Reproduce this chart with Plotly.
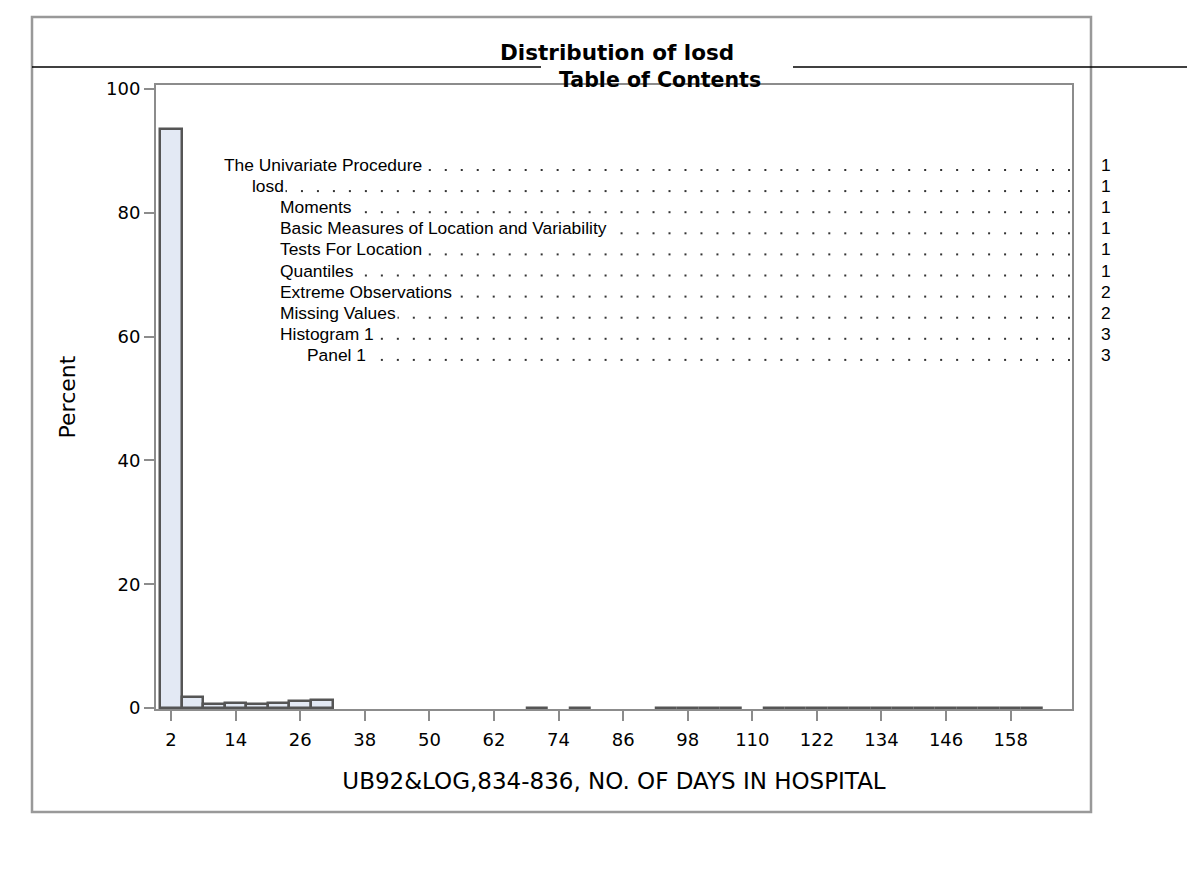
import plotly.graph_objects as go

W, H = 1187, 869

# ---- histogram data (bin midpoints, percent) ----
bin_mid = [2, 6, 10, 14, 18, 22, 26, 30, 34, 38, 42, 46, 50, 54, 58, 62, 66, 70,
           74, 78, 82, 86, 90, 94, 98, 102, 106, 110, 114, 118, 122, 126, 130,
           134, 138, 142, 146, 150, 154, 158, 162]
percent = [93.5, 1.75, 0.6, 0.75, 0.6, 0.75, 1.1, 1.25,
           None, None, None, None, None, None, None, None, None,
           0.08, None, 0.08, None, None, None,
           0.08, 0.08, 0.08, 0.08, None,
           0.08, 0.08, 0.08, 0.08, 0.08, 0.08, 0.08, 0.08, 0.08, 0.08, 0.08, 0.08, 0.08]
x_ticks = [2, 14, 26, 38, 50, 62, 74, 86, 98, 110, 122, 134, 146, 158]
y_ticks = [0, 20, 40, 60, 80, 100]

# ---- table of contents ----
toc_entries = ["The Univariate Procedure", "losd", "Moments",
               "Basic Measures of Location and Variability", "Tests For Location",
               "Quantiles", "Extreme Observations", "Missing Values",
               "Histogram 1", "Panel 1"]
toc_levels = [0, 1, 2, 2, 2, 2, 2, 2, 2, 3]
toc_pages = ["1", "1", "1", "1", "1", "1", "2", "2", "3", "3"]

def px(x):
    return x / W

def py(y):
    return 1 - y / H

AX_FONT = "DejaVu Sans"
TITLE_FONT = "DejaVu Sans"
TOC_FONT = "Liberation Sans, Arial"

fig = go.Figure()
fig.add_trace(go.Bar(
    x=bin_mid, y=percent, width=4,
    marker=dict(color="#E3E9F4", line=dict(color="#555555", width=2.5)),
    xaxis="x", yaxis="y", showlegend=False,
))

# dotted leaders (drawn in a pixel-space overlay axis)
dot_x, dot_y = [], []
row_y0, row_dy = 165, 21.1
x_last, dstep = 1069, 15.98
for i, lvl in enumerate(toc_levels):
    left = 222 + 27.8 * lvl
    yy = row_y0 + row_dy * i + 5
    k = 0
    while x_last - k * dstep > left + 6:
        dot_x.append(x_last - k * dstep)
        dot_y.append(yy)
        k += 1
fig.add_trace(go.Scatter(
    x=dot_x, y=dot_y, mode="markers",
    marker=dict(symbol="square", size=2, color="#333333"),
    xaxis="x2", yaxis="y2", showlegend=False, hoverinfo="skip",
))

annotations = []
for i, (t, lvl, pg) in enumerate(zip(toc_entries, toc_levels, toc_pages)):
    yy = row_y0 + row_dy * i
    annotations.append(dict(
        text=t, x=px(222 + 27.8 * lvl), y=py(yy), xref="paper", yref="paper",
        xanchor="left", yanchor="middle", showarrow=False,
        font=dict(family=TOC_FONT, size=17.4, color="black"),
        bgcolor="white", borderpad=1,
    ))
    annotations.append(dict(
        text=pg, x=px(1106), y=py(yy), xref="paper", yref="paper",
        xanchor="center", yanchor="middle", showarrow=False,
        font=dict(family=TOC_FONT, size=17.4, color="black"),
    ))

annotations.append(dict(
    text="<b>Distribution of losd</b>", x=px(617), y=py(52), xref="paper", yref="paper",
    xanchor="center", yanchor="middle", showarrow=False,
    font=dict(family=TITLE_FONT, size=21.5, color="black"),
))
annotations.append(dict(
    text="<b>Table of Contents</b>", x=px(660), y=py(80), xref="paper", yref="paper",
    xanchor="center", yanchor="middle", showarrow=False,
    font=dict(family=TITLE_FONT, size=20.5, color="black"),
))

shapes = [
    dict(type="rect", xref="paper", yref="paper", x0=px(32), x1=px(1091), y0=py(17), y1=py(812),
         line=dict(color="#999999", width=2.5), layer="above"),
    dict(type="line", xref="paper", yref="paper", x0=px(32), x1=px(541), y0=py(67), y1=py(67),
         line=dict(color="black", width=1.5)),
    dict(type="line", xref="paper", yref="paper", x0=px(793), x1=px(1187), y0=py(67), y1=py(67),
         line=dict(color="black", width=1.5)),
]

fig.update_layout(
    width=W, height=H,
    margin=dict(l=0, r=0, t=0, b=0, pad=0, autoexpand=False),
    paper_bgcolor="white", plot_bgcolor="rgba(0,0,0,0)",
    bargap=0,
    xaxis=dict(domain=[px(156), px(1072)], range=[-0.8, 169.4],
               tickvals=x_ticks, ticks="outside", ticklen=10, tickwidth=2, tickcolor="#8c8c8c",
               ticklabelstandoff=3,
               showline=True, linecolor="#8c8c8c", linewidth=2, mirror=True,
               showgrid=False, zeroline=False, automargin=False,
               tickfont=dict(family=AX_FONT, size=18, color="black"),
               title=dict(text="UB92&LOG,834-836, NO. OF DAYS IN HOSPITAL",
                          font=dict(family=AX_FONT, size=23, color="black"), standoff=24),
               anchor="y"),
    yaxis=dict(domain=[py(709), py(85)], range=[-0.16, 100.65],
               tickvals=y_ticks, ticks="outside", ticklen=10, tickwidth=2, tickcolor="#8c8c8c",
               showline=True, linecolor="#8c8c8c", linewidth=2, mirror=True,
               showgrid=False, zeroline=False, automargin=False,
               tickfont=dict(family=AX_FONT, size=18, color="black"),
               title=dict(text="Percent", font=dict(family=AX_FONT, size=22, color="black"),
                          standoff=24),
               anchor="x"),
    xaxis2=dict(domain=[0, 1], range=[0, W], visible=False, anchor="y2", fixedrange=True),
    yaxis2=dict(domain=[0, 1], range=[H, 0], visible=False, anchor="x2", fixedrange=True),
    annotations=annotations,
    shapes=shapes,
)

fig.write_html(
    "out.html",
    config={"displayModeBar": False},
    post_script=("document.body.style.margin='0';document.body.style.overflow='hidden';"
                 "var d=document.getElementById('{plot_id}');"
                 "d.style.position='absolute';d.style.top='0px';d.style.left='0px';"),
)
